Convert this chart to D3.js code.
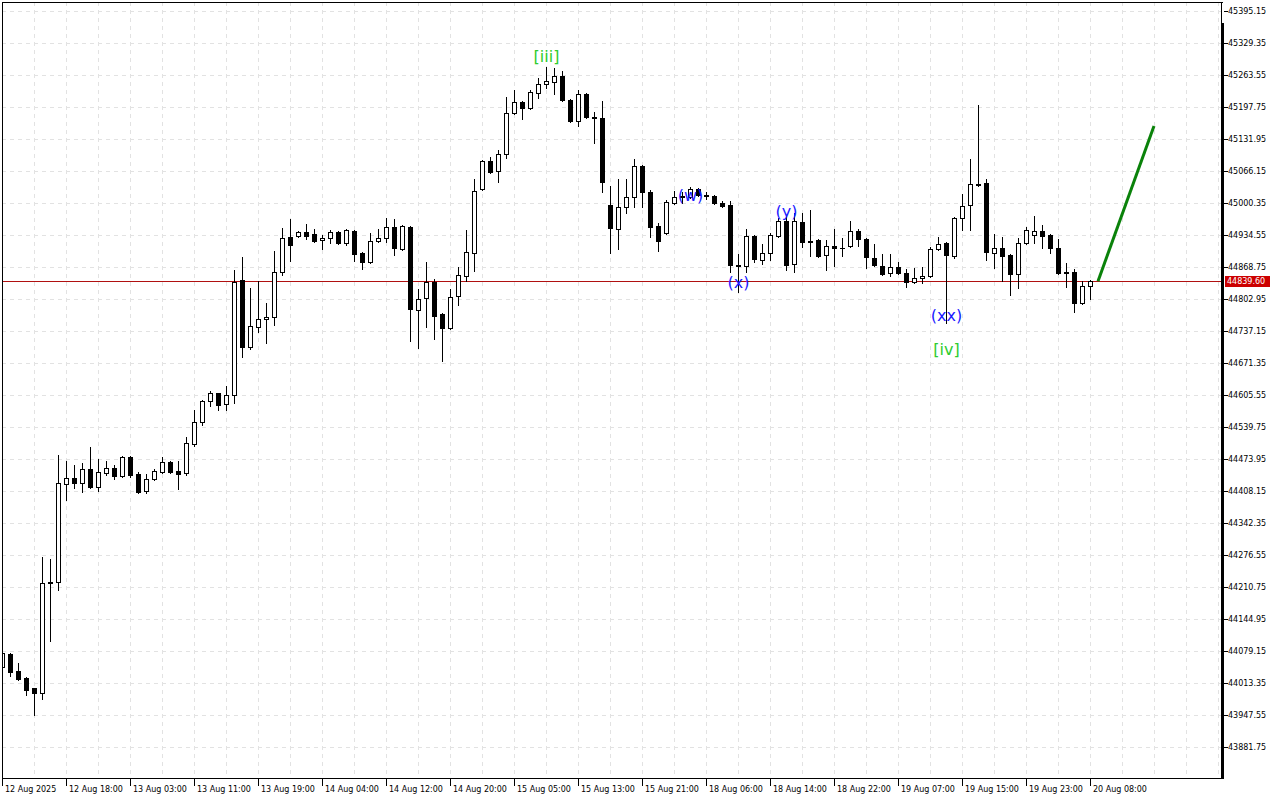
<!DOCTYPE html>
<html><head><meta charset="utf-8">
<script src="https://cdn.jsdelivr.net/npm/d3@7/dist/d3.min.js"></script>
<style>body{margin:0;background:#fff}svg{display:block}</style>
</head><body><svg id="c" width="1280" height="800"></svg>
<script>
const xTickLabels = ["12 Aug 2025","12 Aug 18:00","13 Aug 03:00","13 Aug 11:00","13 Aug 19:00","14 Aug 04:00","14 Aug 12:00","14 Aug 20:00","15 Aug 05:00","15 Aug 13:00","15 Aug 21:00","18 Aug 06:00","18 Aug 14:00","18 Aug 22:00","19 Aug 07:00","19 Aug 15:00","19 Aug 23:00","20 Aug 08:00"];
const yTickLabels = ["45395.15","45329.35","45263.55","45197.75","45131.95","45066.15","45000.35","44934.55","44868.75","44802.95","44737.15","44671.35","44605.55","44539.75","44473.95","44408.15","44342.35","44276.55","44210.75","44144.95","44079.15","44013.35","43947.55","43881.75"];

const open = [
44046.3,44073.0,44038.0,44023.6,44003.1,43992.8,44219.0,44221.0,44422.5,44434.9,
44424.6,44453.4,44416.4,44445.2,44455.5,44439.0,44478.1,44443.1,44408.2,44432.8,
44447.2,44467.8,44449.3,44445.2,44504.8,44550.0,44593.2,44609.7,44587.1,44605.6,
44842.0,44704.3,44745.4,44761.8,44765.9,44858.5,44930.4,44932.5,44940.7,44936.6,
44924.3,44928.4,44940.7,44918.1,44942.8,44897.5,44879.0,44922.2,44928.4,44951.0,
44905.8,44951.0,44780.3,44805.0,44837.9,44772.1,44743.3,44809.1,44850.2,44897.5,
45029.1,45086.7,45066.2,45101.1,45185.4,45208.0,45195.7,45226.5,45245.1,45249.2,
45261.5,45212.1,45169.0,45224.5,45177.2,45175.1,44996.2,44946.9,44992.1,45012.7,
45076.4,45023.0,44953.1,44938.7,45000.4,45014.8,45012.7,45029.1,45016.8,45014.8,
45000.4,44996.2,44872.9,44870.8,44932.5,44883.2,44897.5,44932.5,44963.3,44874.9,
44961.3,44922.2,44924.3,44893.4,44911.9,44908.8,44911.9,44942.8,44926.3,44887.3,
44870.8,44856.4,44868.8,44856.4,44837.9,44846.1,44850.2,44905.8,44918.1,44891.4,
44969.5,44996.2,45039.4,45041.5,44897.5,44907.8,44893.4,44854.4,44918.1,44934.6,
44942.8,44934.6,44907.8,44858.5,44858.5,44794.7,44829.7];
const high = [
44077.0,44075.0,44054.5,44025.7,44004.0,44272.4,44268.3,44482.2,44469.8,44461.6,
44465.7,44498.6,44474.0,44469.8,44461.6,44480.1,44480.1,44447.2,44443.1,44453.4,
44478.1,44469.8,44469.8,44519.2,44574.7,44595.3,44613.8,44610.5,44624.1,44862.6,
44889.3,44825.6,44840.0,44794.7,44901.7,44948.9,44967.5,44942.8,44957.2,44946.9,
44934.6,44944.8,44942.0,44946.9,44944.8,44899.6,44938.7,44946.9,44969.5,44967.5,
44955.1,44953.1,44823.5,44879.0,44844.1,44774.2,44823.5,44868.8,44944.8,45049.7,
45088.8,45094.9,45109.3,45218.3,45232.7,45210.1,45232.7,45257.4,45280.0,45278.0,
45271.8,45213.5,45232.7,45226.5,45187.5,45210.1,45035.3,45049.7,45049.7,45090.8,
45077.5,45027.1,44959.2,45006.5,45025.0,45023.0,45033.2,45031.2,45023.0,45016.8,
45004.5,45004.5,44895.5,44946.9,44934.6,44916.0,44938.7,44970.0,44975.0,44979.8,
44979.8,44986.0,44925.5,44924.3,44946.9,44928.4,44963.3,44946.9,44927.5,44916.0,
44895.5,44895.5,44879.0,44864.6,44866.7,44868.8,44909.9,44930.4,44919.5,44971.6,
45018.9,45090.8,45201.9,45049.7,44936.6,44930.4,44894.5,44928.4,44951.0,44973.6,
44955.1,44936.0,44926.3,44877.0,44864.6,44840.0,44841.0];
const low = [
44040.1,44027.7,44020.0,43988.7,43947.6,43980.5,44099.7,44204.6,44389.6,44414.3,
44406.1,44414.0,44408.2,44441.1,44432.8,44436.9,44436.9,44405.0,44404.0,44430.8,
44446.0,44446.0,44412.3,44441.1,44500.7,44543.9,44582.9,44574.7,44574.7,44589.1,
44683.7,44700.1,44735.1,44712.5,44749.5,44852.3,44881.1,44930.4,44926.3,44920.2,
44905.8,44918.1,44917.0,44914.0,44881.1,44864.6,44877.0,44920.2,44920.2,44893.4,
44903.7,44716.6,44702.2,44745.4,44720.7,44675.5,44741.3,44790.6,44840.0,44860.5,
45027.0,45063.0,45043.5,45092.9,45183.0,45173.1,45194.0,45216.3,45236.8,45224.5,
45210.1,45167.5,45158.7,45176.0,45123.8,45023.0,44897.5,44905.8,44979.8,44992.1,
44992.1,44930.4,44901.7,44936.6,44998.3,45000.4,45011.0,45014.8,45008.6,44998.3,
44992.1,44858.5,44817.3,44858.5,44879.0,44874.9,44883.2,44930.4,44862.6,44858.5,
44909.9,44891.4,44889.3,44862.6,44870.8,44891.4,44909.9,44911.9,44866.7,44871.5,
44852.3,44850.2,44854.4,44827.6,44835.9,44835.9,44849.0,44904.5,44753.6,44887.3,
44944.8,44944.8,45036.0,44883.2,44866.7,44840.0,44811.2,44825.6,44917.0,44918.1,
44907.8,44897.5,44855.0,44827.6,44776.2,44792.7,44803.0];
const close = [
44075.0,44036.0,44022.5,43999.0,43992.8,44219.0,44221.0,44424.6,44434.9,44424.6,
44453.4,44416.4,44447.2,44455.5,44439.0,44478.1,44441.1,44406.1,44432.8,44449.3,
44467.8,44447.2,44443.1,44506.9,44550.0,44593.2,44609.7,44585.0,44605.6,44837.9,
44704.3,44747.4,44761.8,44765.9,44858.5,44928.4,44914.0,44940.7,44932.5,44922.2,
44928.4,44940.7,44918.1,44944.8,44895.5,44879.0,44922.2,44928.4,44951.0,44907.8,
44953.1,44782.4,44803.0,44837.9,44768.0,44743.3,44807.1,44852.3,44899.6,45025.0,
45086.7,45064.1,45101.1,45185.4,45208.0,45195.7,45228.6,45245.1,45251.2,45261.5,
45212.1,45169.0,45224.5,45177.2,45175.1,45043.5,44948.9,44992.1,45012.7,45076.4,
45023.0,44951.0,44922.2,45002.4,45012.7,45012.7,45029.1,45016.8,45014.8,45000.4,
44994.2,44872.9,44870.8,44932.5,44885.2,44897.5,44934.6,44963.3,44872.9,44963.3,
44920.2,44920.2,44891.4,44911.9,44907.8,44907.8,44942.8,44926.3,44889.3,44872.9,
44854.4,44868.8,44856.4,44837.9,44846.1,44850.2,44905.8,44916.0,44893.4,44969.5,
44994.2,45039.4,45037.4,44899.6,44907.8,44891.4,44854.4,44918.1,44944.8,44942.8,
44932.5,44907.8,44856.4,44856.4,44794.7,44829.7,44839.6];

const currentPrice = 44839.60;
const forecastBar = [137, 144];
const forecastPrice = [44839.6, 45158.7];
const waveLabels = ["[iii]","(w)","(x)","(y)","(xx)","[iv]"];
const waveBars = [68, 86, 92, 98, 118, 118];
const wavePrices = [45300.6, 45014.8, 44835.9, 44981.9, 44770.0, 44698.1];
const waveColors = ["#2ecc2e","#1a1aff","#1a1aff","#1a1aff","#1a1aff","#2ecc2e"];

const svg = d3.select("#c");
const L = 2, T = 2, R = 1221, B = 778;
const x = d3.scaleLinear().domain([0, 136]).range([2, 1090]);
const y = d3.scaleLinear().domain([43881.75, 45395.15]).range([747, 11]);
const font = "DejaVu Sans, sans-serif";

svg.append("rect").attr("width",1280).attr("height",800).attr("fill","#fff");
svg.append("defs").append("clipPath").attr("id","plot").append("rect")
  .attr("x",L+1).attr("y",T+1).attr("width",R-L-1).attr("height",B-T-1);

const grid = svg.append("g").attr("stroke","#e2e2e2").attr("stroke-dasharray","4,4").attr("shape-rendering","crispEdges");
yTickLabels.forEach(t => {
  const yy = Math.round(y(+t)) + 0.5;
  grid.append("line").attr("x1",L).attr("x2",R).attr("y1",yy).attr("y2",yy);
});
for (let gx = L + 32; gx < R; gx += 32) {
  grid.append("line").attr("x1",gx+0.5).attr("x2",gx+0.5).attr("y1",T).attr("y2",B);
}

const plot = svg.append("g").attr("clip-path","url(#plot)");
const px = i => Math.round(x(i));
const py = v => Math.round(y(v));

// current price line
plot.append("line").attr("x1",L).attr("x2",R).attr("y1",py(currentPrice)+0.5).attr("y2",py(currentPrice)+0.5)
  .attr("stroke","#b01010").attr("stroke-width",1).attr("shape-rendering","crispEdges");

const candles = plot.append("g").attr("shape-rendering","crispEdges");
open.forEach((o, i) => {
  const c = close[i], h = high[i], l = low[i];
  const cx = px(i) + 0.5;
  candles.append("line").attr("x1",cx).attr("x2",cx).attr("y1",py(h)).attr("y2",py(l)+1).attr("stroke","#000");
  const top = py(Math.max(o,c)), bot = py(Math.min(o,c));
  const bull = c >= o;
  if (bot - top < 1) {
    candles.append("line").attr("x1",cx-2.5).attr("x2",cx+2.5).attr("y1",top+0.5).attr("y2",top+0.5).attr("stroke","#000");
  } else {
    candles.append("rect").attr("x",cx-2).attr("y",top+0.5).attr("width",4).attr("height",bot-top)
      .attr("fill", bull ? "#fff" : "#000").attr("stroke","#000").attr("stroke-width",1);
  }
});

// forecast line
plot.append("line").attr("x1",x(forecastBar[0])).attr("y1",y(forecastPrice[0]))
  .attr("x2",x(forecastBar[1])).attr("y2",y(forecastPrice[1]))
  .attr("stroke","#0a820a").attr("stroke-width",3);

// wave labels
waveLabels.forEach((t, i) => {
  plot.append("text").attr("x",x(waveBars[i])+0.5).attr("y",y(wavePrices[i]))
    .attr("text-anchor","middle").attr("dominant-baseline","central")
    .attr("font-family",font).attr("font-size",16).attr("fill",waveColors[i]).text(t);
});

// frame
const frame = svg.append("g").attr("shape-rendering","crispEdges");
frame.append("line").attr("x1",L).attr("x2",R+2).attr("y1",T+0.5).attr("y2",T+0.5).attr("stroke","#000");
frame.append("line").attr("x1",L+0.5).attr("x2",L+0.5).attr("y1",T).attr("y2",B+1).attr("stroke","#000");
frame.append("line").attr("x1",L).attr("x2",R+2).attr("y1",B+0.5).attr("y2",B+0.5).attr("stroke","#000");
frame.append("line").attr("x1",R+0.5).attr("x2",R+0.5).attr("y1",T).attr("y2",23).attr("stroke","#000");
frame.append("rect").attr("x",R).attr("y",23).attr("width",3).attr("height",B-23+1).attr("fill","#000");

// y axis
const ya = svg.append("g");
yTickLabels.forEach(t => {
  const yy = py(+t);
  ya.append("line").attr("x1",R+3).attr("x2",R+7).attr("y1",yy+0.5).attr("y2",yy+0.5).attr("stroke","#000").attr("shape-rendering","crispEdges");
  ya.append("text").attr("x",R+7).attr("y",yy+0.5).attr("dominant-baseline","central")
    .attr("font-family",font).attr("font-size",8).attr("fill","#000").text(t);
});
// current price tag
const cy = py(currentPrice);
ya.append("rect").attr("x",R+4).attr("y",cy-5).attr("width",45).attr("height",11).attr("fill","#cc0000");
ya.append("text").attr("x",R+6).attr("y",cy+0.5).attr("dominant-baseline","central")
  .attr("font-family",font).attr("font-size",8).attr("fill","#fff").text(currentPrice.toFixed(2));

// x axis
const xa = svg.append("g");
xTickLabels.forEach((t, j) => {
  const xx = px(j * 8);
  xa.append("line").attr("x1",xx+0.5).attr("x2",xx+0.5).attr("y1",B).attr("y2",B+8).attr("stroke","#000").attr("shape-rendering","crispEdges");
  xa.append("text").attr("x",xx+3).attr("y",B+14).attr("font-family",font).attr("font-size",8).attr("fill","#000").text(t);
});
</script></body></html>
